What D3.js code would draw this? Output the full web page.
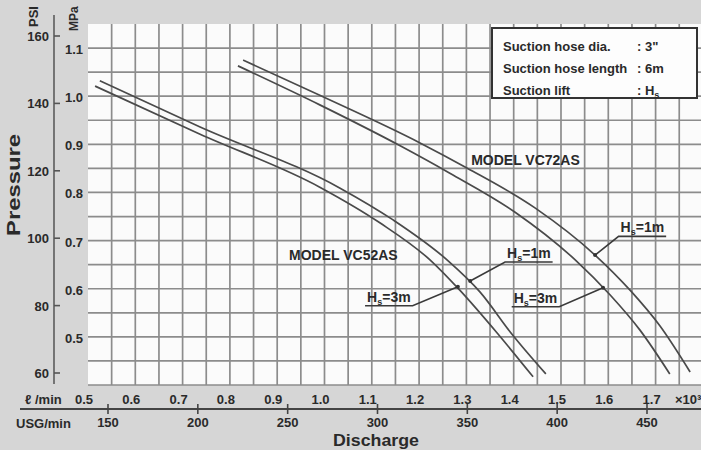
<!DOCTYPE html>
<html><head><meta charset="utf-8">
<script src="https://cdn.jsdelivr.net/npm/d3@7/dist/d3.min.js"></script>
<style>
body{margin:0;background:#d6d6d6;}
svg{display:block;font-family:"Liberation Sans",Arial,sans-serif;}
</style>
</head><body>
<svg id="chart" width="701" height="450"></svg>
<script>
// ---- data (flow in ×10³ l/min, pressure in MPa) ----
const flowTicks = [0.5,0.6,0.7,0.8,0.9,1.0,1.1,1.2,1.3,1.4,1.5,1.6,1.7];
const usgTicks = [150,200,250,300,350,400,450];
const mpaTicks = [0.5,0.6,0.7,0.8,0.9,1.0,1.1];
const psiTicks = [60,80,100,120,140,160];

const vc52_1m_flow = [0.525,0.737,1.033,1.145,1.259,1.329,1.396,1.468];
const vc52_1m_mpa  = [1.032,0.936,0.809,0.743,0.660,0.593,0.506,0.423];
const vc52_3m_flow = [0.515,0.737,0.990,1.117,1.223,1.286,1.365,1.441];
const vc52_3m_mpa  = [1.021,0.921,0.811,0.737,0.660,0.597,0.508,0.417];
const vc72_1m_flow = [0.828,0.990,1.202,1.301,1.445,1.572,1.646,1.709,1.773];
const vc72_1m_mpa  = [1.075,1.002,0.903,0.851,0.768,0.670,0.597,0.523,0.427];
const vc72_3m_flow = [0.817,0.990,1.160,1.265,1.403,1.530,1.604,1.667,1.730];
const vc72_3m_mpa  = [1.063,0.982,0.897,0.840,0.759,0.660,0.587,0.514,0.423];

const legendLines = [["Suction hose dia.", ": 3\""],["Suction hose length", ": 6m"],["Suction lift", ": H", "s"]];
const modelLabels = [{text:"MODEL VC52AS", f:0.925, p:0.660},{text:"MODEL VC72AS", f:1.310, p:0.857}];
const hsLabels = [
  {val:"1m", f:1.386, p:0.664, side:"left",  tf:1.308, tp:0.616},
  {val:"3m", f:1.090, p:0.573, side:"right", tf:1.282, tp:0.604},
  {val:"1m", f:1.626, p:0.717, side:"left",  tf:1.572, tp:0.670},
  {val:"3m", f:1.400, p:0.571, side:"right", tf:1.589, tp:0.602}
];

const svg = d3.select("#chart");
const W = 701, H = 450;
const x = d3.scaleLinear().domain([0.5, 1.796]).range([88, 701]);
const y = d3.scaleLinear().domain([0.4, 1.15]).range([385, 24]);
const psi = d3.scaleLinear().domain([60,160]).range([373,36]);
const usg = d3.scaleLinear().domain([150,450]).range([108,647]);
const ink = "#2a2a2a";

svg.append("rect").attr("width",W).attr("height",H).attr("fill","#d6d6d6");
svg.append("rect").attr("x",x(0.5)).attr("y",y(1.15)).attr("width",W-x(0.5)).attr("height",y(0.4)-y(1.15)).attr("fill","#fbfbfb");

// grid
const gridG = svg.append("g").attr("stroke","#8c8c8c").attr("stroke-width",1.7).attr("fill","none");
gridG.selectAll("line.v").data(d3.range(0.55,1.79,0.05)).join("line").attr("class","v")
  .attr("x1",d=>x(d)).attr("x2",d=>x(d)).attr("y1",y(1.15)).attr("y2",y(0.4));
gridG.selectAll("line.h").data(d3.range(0.45,1.149,0.05).concat([0.4])).join("line").attr("class","h")
  .attr("x1",x(0.5)).attr("x2",W).attr("y1",d=>y(d)).attr("y2",d=>y(d));

// curves
const line = d3.line().x(d=>x(d[0])).y(d=>y(d[1])).curve(d3.curveMonotoneX);
[[vc52_1m_flow,vc52_1m_mpa],[vc52_3m_flow,vc52_3m_mpa],[vc72_1m_flow,vc72_1m_mpa],[vc72_3m_flow,vc72_3m_mpa]].forEach(([f,p])=>{
  svg.append("path").datum(d3.zip(f,p)).attr("d",line).attr("fill","none").attr("stroke","#4a4a4a").attr("stroke-width",1.7);
});

// legend box
const lg = svg.append("g");
lg.append("rect").attr("x",492).attr("y",28).attr("width",205).attr("height",70).attr("fill","#fdfdfd").attr("stroke","#333").attr("stroke-width",2);
legendLines.forEach((l,i)=>{
  lg.append("text").attr("x",503).attr("y",51+i*22).attr("font-size",13).attr("font-weight","bold").attr("fill",ink).text(l[0]);
  const t2 = lg.append("text").attr("x",637).attr("y",51+i*22).attr("font-size",13).attr("font-weight","bold").attr("fill",ink).text(l[1]);
  if(l[2]) t2.append("tspan").attr("font-size",9).attr("dy",3).text(l[2]);
});

modelLabels.forEach(m=>{
  svg.append("text").attr("x",x(m.f)).attr("y",y(m.p)).attr("font-size",14).attr("font-weight","bold").attr("fill",ink).text(m.text);
});

// Hs labels with leaders
const seg = d3.line();
hsLabels.forEach(h=>{
  const g = svg.append("g");
  const tx = x(h.f), ty = y(h.p);
  const t = g.append("text").attr("x",tx).attr("y",ty).attr("font-size",14).attr("font-weight","bold").attr("fill",ink);
  t.append("tspan").text("H");
  t.append("tspan").attr("font-size",9).attr("dy",3).text("s");
  t.append("tspan").attr("dy",-3).text("=" + h.val);
  const w = t.node().getComputedTextLength();
  const uy = ty+4;
  const lx = h.side==="left" ? tx-2 : tx+w+2;
  const pts = h.side==="left"
    ? [[x(h.tf), y(h.tp)], [lx, uy], [tx+w+2, uy]]
    : [[tx-2, uy], [lx, uy], [x(h.tf), y(h.tp)]];
  g.append("path").attr("d", seg(pts)).attr("fill","none").attr("stroke","#3a3a3a").attr("stroke-width",1.6);
  g.append("circle").attr("cx",x(h.tf)).attr("cy",y(h.tp)).attr("r",2).attr("fill","#333");
});

// left axes
svg.append("line").attr("x1",54).attr("x2",54).attr("y1",15).attr("y2",384).attr("stroke","#6a6a6a").attr("stroke-width",1.8);
svg.selectAll("line.pt").data(psiTicks).join("line").attr("class","pt").attr("x1",54).attr("x2",60).attr("y1",d=>psi(d)).attr("y2",d=>psi(d)).attr("stroke","#555").attr("stroke-width",1.6);
psiTicks.forEach(v=>{
  svg.append("text").attr("x",49).attr("y",psi(v)+5).attr("text-anchor","end").attr("font-size",13).attr("font-weight","bold").attr("fill",ink).text(v);
});
mpaTicks.forEach(v=>{
  svg.append("text").attr("x",83).attr("y",y(v)+6).attr("text-anchor","end").attr("font-size",13).attr("font-weight","bold").attr("fill",ink).text(d3.format(".1f")(v));
});
svg.append("text").attr("transform","translate(38,27) rotate(-90)").attr("font-size",13).attr("font-weight","bold").attr("fill",ink).text("PSI");
svg.append("text").attr("transform","translate(78,31) rotate(-90)").attr("font-size",12).attr("font-weight","bold").attr("fill",ink).text("MPa");
svg.append("text").attr("transform","translate(20,185) rotate(-90)").attr("text-anchor","middle").attr("font-size",18).attr("font-weight","bold").attr("fill",ink)
  .attr("textLength",102).attr("lengthAdjust","spacingAndGlyphs").text("Pressure");

// bottom axes
svg.append("line").attr("x1",20).attr("x2",W).attr("y1",409).attr("y2",409).attr("stroke","#444").attr("stroke-width",1.8);
svg.selectAll("line.ut").data(usgTicks).join("line").attr("class","ut").attr("x1",d=>usg(d)).attr("x2",d=>usg(d)).attr("y1",404).attr("y2",414).attr("stroke","#444").attr("stroke-width",1.6);
flowTicks.forEach(v=>{
  svg.append("text").attr("x",x(v)-4).attr("y",404).attr("text-anchor","middle").attr("font-size",13).attr("font-weight","bold").attr("fill",ink).text(d3.format(".1f")(v));
});
svg.append("text").attr("x",675).attr("y",404).attr("font-size",13).attr("font-weight","bold").attr("fill",ink).text("×10³");
svg.append("text").attr("x",25).attr("y",404).attr("font-size",13).attr("font-weight","bold").attr("fill",ink).text("ℓ /min");
usgTicks.forEach(v=>{
  svg.append("text").attr("x",usg(v)).attr("y",427).attr("text-anchor","middle").attr("font-size",13).attr("font-weight","bold").attr("fill",ink).text(v);
});
svg.append("text").attr("x",16).attr("y",428).attr("font-size",13).attr("font-weight","bold").attr("fill",ink).text("USG/min");
svg.append("text").attr("x",376).attr("y",446).attr("text-anchor","middle").attr("font-size",17).attr("font-weight","bold").attr("fill",ink)
  .attr("textLength",86).attr("lengthAdjust","spacingAndGlyphs").text("Discharge");
</script>
</body></html>
